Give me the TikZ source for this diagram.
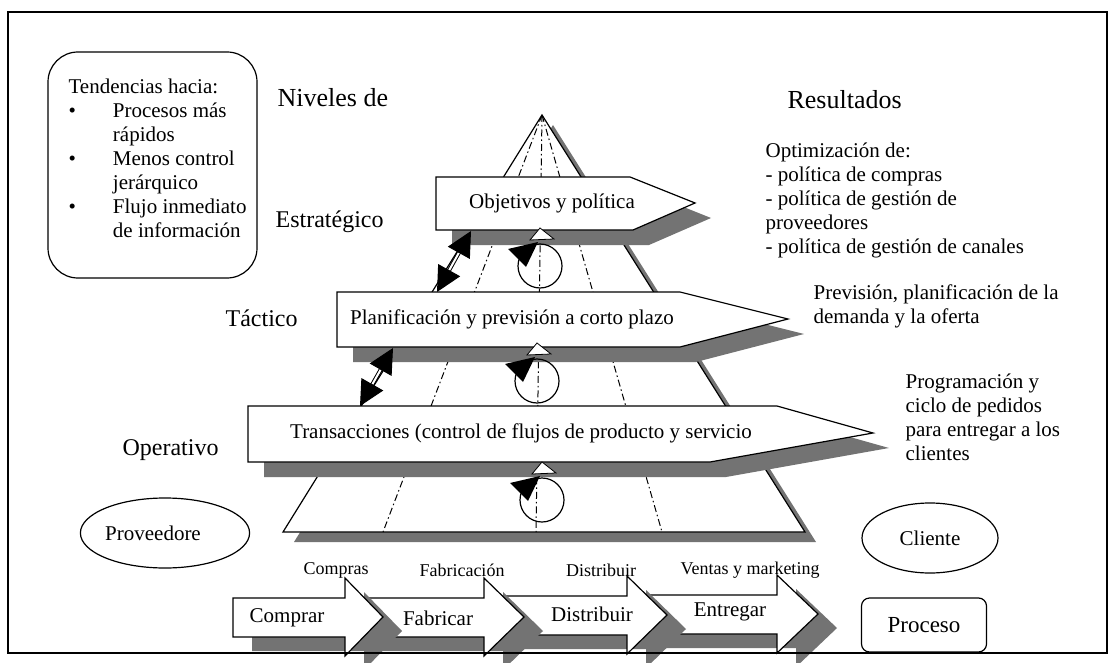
\documentclass[tikz,border=0pt]{standalone}
\usepackage{fontspec}
\setmainfont{Liberation Serif}
\usetikzlibrary{arrows.meta,shapes.geometric}

\begin{document}
\begin{tikzpicture}[x=1pt, y=-1pt, line width=1.2pt,
    dropfill/.style={fill=black!55, draw=none},
    panel/.style={fill=white, draw=black},
    guide/.style={line width=1pt, dash pattern=on 7pt off 3pt on 1.5pt off 3pt},
    txt/.style={font=\fontsize{21}{24}\selectfont, inner sep=0pt},
    lvl/.style={font=\fontsize{24}{28}\selectfont, inner sep=0pt, anchor=west},
    head/.style={font=\fontsize{26}{30}\selectfont, inner sep=0pt, anchor=west},
    small/.style={font=\fontsize{18}{20}\selectfont, inner sep=0pt},
    twoway/.style={{Triangle[length=25pt,width=25pt]}-{Triangle[length=25pt,width=25pt]}, double=white, double distance=2pt, line width=1pt}]
    \useasboundingbox (0,0) rectangle (1110,663);

    % Pyramid {apex, base}
    \coordinate (apex)  at (542,115);
    \coordinate (baseL) at (283,532);
    \coordinate (baseR) at (805,532);
    \fill [dropfill] ([shift={(11,10)}]apex) -- ([shift={(11,10)}]baseL) -- ([shift={(11,10)}]baseR) -- cycle;
    \draw [panel] (apex) -- (baseL) -- (baseR) -- cycle;
    \draw [guide] (apex) -- (383,532);
    \draw [guide] (apex) -- (536,532);
    \draw [guide] (apex) -- (662,532);

    % Level boxes
    \fill [dropfill, shift={(16,15)}] (436,177) -- (630,177) -- (695,203) -- (633,230) -- (436,230) -- cycle;
    \draw [panel] (436,177) -- (630,177) -- (695,203) -- (633,230) -- (436,230) -- cycle;
    \fill [dropfill, shift={(16,15)}] (337,292) -- (680,292) -- (788,319) -- (680,347) -- (337,347) -- cycle;
    \draw [panel] (337,292) -- (680,292) -- (788,319) -- (680,347) -- (337,347) -- cycle;
    \fill [dropfill, shift={(16,15)}] (248,406) -- (777,406) -- (873,433) -- (710,462) -- (248,462) -- cycle;
    \draw [panel] (248,406) -- (777,406) -- (873,433) -- (710,462) -- (248,462) -- cycle;

    \node [txt] (obj)   at (552,203) {Objetivos y política};
    \node [txt] (plan)  at (512,319) {Planificación y previsión a corto plazo};
    \node [txt] (trans) at (521,433) {Transacciones (control de flujos de producto y servicio};

    % Loops
    \foreach \cx/\cy in {540/266, 537/381, 542/500}{
        \draw (\cx,\cy) circle (22);
        \fill (\cx-32,\cy-17) -- (\cx-2,\cy-24) -- (\cx-14,\cy+1) -- cycle;
        \filldraw [fill=white, line width=0.8pt] (\cx-10,\cy-26) -- (\cx,\cy-38) -- (\cx+14,\cy-27) -- cycle;
    }

    % Links between levels
    \coordinate (up1) at (471,231);
    \coordinate (dn1) at (437,292);
    \coordinate (up2) at (393,348);
    \coordinate (dn2) at (360,406);
    \draw [twoway] (dn1) -- (up1);
    \draw [twoway] (dn2) -- (up2);

    % Trends box
    \draw (48,52) [rounded corners=30pt] rectangle (257,278);
    \node [txt, anchor=west] (trends) at (68,161) {%
        \begin{tabular}{@{}l@{\hspace{37pt}}l@{}}
        \multicolumn{2}{@{}l@{}}{Tendencias hacia:}\\
        \textbullet & Procesos más\\
                    & rápidos\\
        \textbullet & Menos control\\
                    & jerárquico\\
        \textbullet & Flujo inmediato\\
                    & de información
        \end{tabular}};

    % Headers and levels
    \node [head] (levels)  at (277,98)  {Niveles de};
    \node [head] (results) at (787,100) {Resultados};
    \node [lvl]  (strat)   at (275,222) {Estratégico};
    \node [lvl]  (tact)    at (225,318) {Táctico};
    \node [lvl]  (oper)    at (122,450) {Operativo};

    % Results
    \node [txt, anchor=west, align=left] (res1) at (765,200) {Optimización de:\\- política de compras\\- política de gestión de\\proveedores\\- política de gestión de canales};
    \node [txt, anchor=west, align=left] (res2) at (813,306) {Previsión, planificación de la\\demanda y la oferta};
    \node [txt, anchor=west, align=left] (res3) at (905,417) {Programación y\\ciclo de pedidos\\para entregar a los\\clientes};

    % Ends of the chain
    \node [txt, draw, ellipse, minimum width=164pt, minimum height=70pt] (prov) at (165,533) {Proveedore\hspace*{24pt}};
    \node [txt, draw, ellipse, minimum width=136pt, minimum height=70pt] (cli)  at (930,538) {Cliente};
    \node [txt, draw, rounded corners=8pt, minimum width=125pt, minimum height=54pt, font=\fontsize{23}{26}\selectfont] (proc) at (924,625) {Proceso};

    % Process chain
    \foreach \l/\h/\t/\dy in {630/777/818/-3, 490/627/667/-2, 350/484/524/0, 233/345/383/0}{
        \fill [dropfill, shift={(19,14)}] (\l,598+\dy) -- (\h,598+\dy) -- (\h,578+\dy) -- (\t,617+\dy) -- (\h,656+\dy) -- (\h,637+\dy) -- (\l,637+\dy) -- cycle;
        \draw [panel] (\l,598+\dy) -- (\h,598+\dy) -- (\h,578+\dy) -- (\t,617+\dy) -- (\h,656+\dy) -- (\h,637+\dy) -- (\l,637+\dy) -- cycle;
    }
    \node [txt] (buy)     at (287,618) {Comprar};
    \node [txt] (make)    at (438,618) {Fabricar};
    \node [txt] (ship)    at (592,614) {Distribuir};
    \node [txt] (deliver) at (730,612) {Entregar};
    \node [small] (purch) at (336,570) {Compras};
    \node [small] (fab)   at (462,570) {Fabricación};
    \node [small] (dist)  at (601,570) {Distribuir};
    \node [small] (sales) at (750,570) {Ventas y marketing};

    % Frame
    \draw (8,12) rectangle (1107,653);
\end{tikzpicture}
\end{document}
